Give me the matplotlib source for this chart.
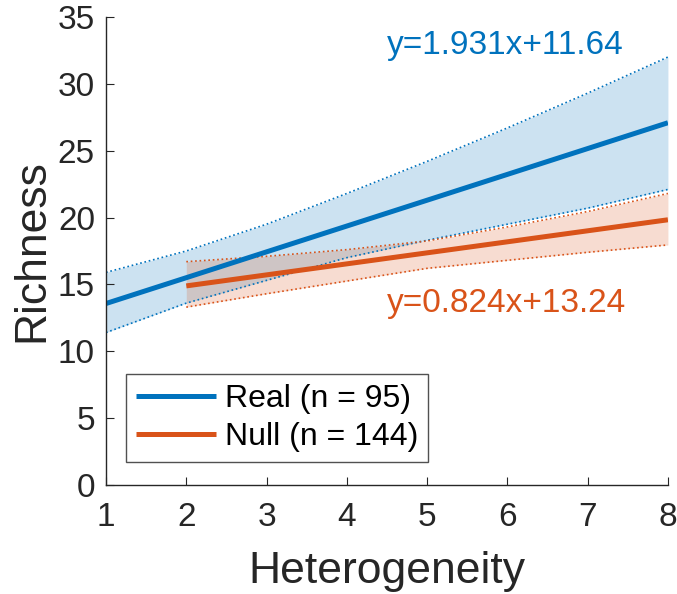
import numpy as np
import matplotlib
matplotlib.use('Agg')
import matplotlib.pyplot as plt

plt.rcParams['font.family'] = ['Liberation Sans', 'DejaVu Sans']

# fitted lines
real_slope, real_icpt = 1.931, 11.64
null_slope, null_icpt = 0.824, 13.24

# confidence band edges
real_x = [1, 2, 3, 4, 5, 6, 7, 8]
real_upper = [15.9, 17.5, 19.5, 21.8, 24.2, 26.7, 29.3, 32.0]
real_lower = [11.4, 13.6, 15.3, 17.0, 18.3, 19.5, 20.7, 22.1]

null_x = [2, 3, 4, 5, 6, 7, 8]
null_upper = [16.7, 17.1, 17.6, 18.25, 19.3, 20.45, 21.8]
null_lower = [13.3, 14.3, 15.25, 16.2, 16.8, 17.4, 17.95]

labels = ['Real (n = 95)', 'Null (n = 144)']

blue = '#0072BD'
orange = '#D95319'

fig = plt.figure(figsize=(6.77, 5.94), dpi=100)
ax = fig.add_axes([0.1566, 0.1835, 0.830, 0.788])

def band(x, lo, hi, c):
    ax.fill_between(x, lo, hi, color=c, alpha=0.2, linewidth=0)
    ax.plot(x, hi, ':', color=c, lw=1.2)
    ax.plot(x, lo, ':', color=c, lw=1.2)

band(real_x, real_lower, real_upper, blue)
band(null_x, null_lower, null_upper, orange)

rx = np.array(real_x)
nx = np.array(null_x)
ax.plot(rx, real_slope * rx + real_icpt, color=blue, lw=3.6, label=labels[0], solid_capstyle='butt')
ax.plot(nx, null_slope * nx + null_icpt, color=orange, lw=3.6, label=labels[1], solid_capstyle='butt')

ax.text(4.5, 32.2, 'y=%.3fx+%.2f' % (real_slope, real_icpt), color=blue, fontsize=24)
ax.text(4.5, 12.9, 'y=%.3fx+%.2f' % (null_slope, null_icpt), color=orange, fontsize=24)

ax.set_xlim(1, 8)
ax.set_ylim(0, 35)
ax.set_xticks(range(1, 9))
ax.set_yticks(range(0, 36, 5))
ax.spines['top'].set_visible(False)
ax.spines['right'].set_visible(False)
for s in ['left', 'bottom']:
    ax.spines[s].set_color('#262626')
    ax.spines[s].set_linewidth(1.0)
ax.tick_params(direction='in', length=6, labelsize=24, colors='#262626')
ax.tick_params(axis='x', pad=12)
ax.tick_params(axis='y', pad=8)
ax.set_xlabel('Heterogeneity', fontsize=32, color='#262626', labelpad=13)
ax.set_ylabel('Richness', fontsize=32, color='#262626', labelpad=4)

leg = ax.legend(loc='lower left', bbox_to_anchor=(0.036, 0.05), fontsize=23, frameon=True,
                fancybox=False, edgecolor='#262626', handlelength=2.5, borderpad=0.3,
                labelspacing=0.25, handletextpad=0.3, borderaxespad=0)
leg.get_frame().set_linewidth(1.0)

fig.savefig('out.png', dpi=100)
